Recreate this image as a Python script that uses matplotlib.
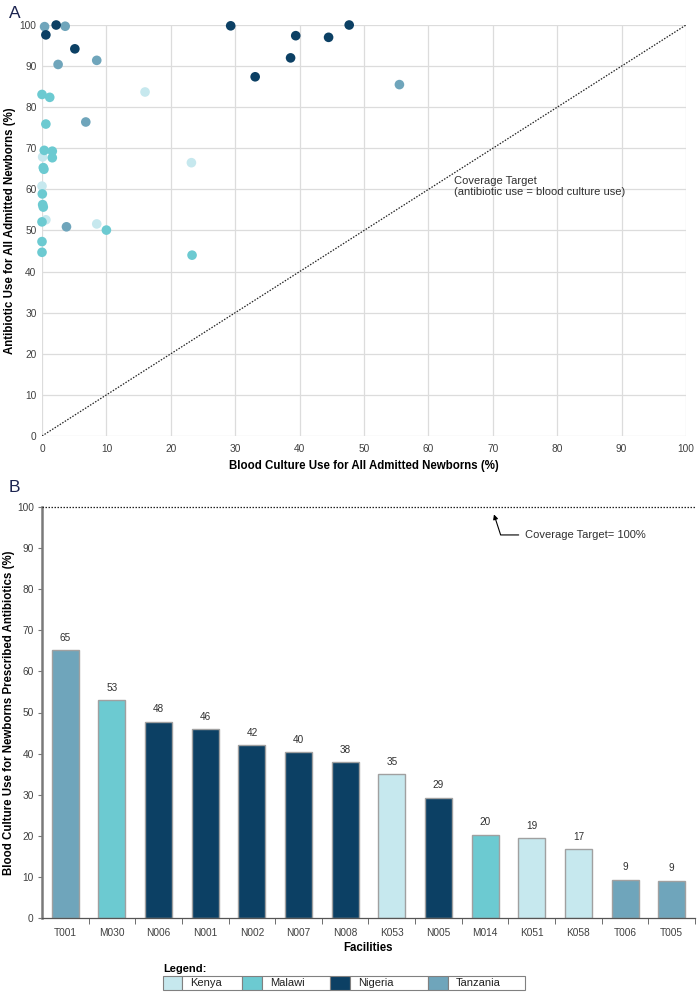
import matplotlib
matplotlib.use("Agg")
import matplotlib.pyplot as plt
from matplotlib.patches import Rectangle

plt.rcParams['font.family'] = ['Liberation Sans', 'DejaVu Sans']

# country colours
colors = {'Kenya': '#c6e8ee', 'Malawi': '#6ccad1', 'Nigeria': '#0c4064', 'Tanzania': '#6fa5bb'}
countries = ['Kenya', 'Malawi', 'Nigeria', 'Tanzania']

# panel A: blood culture use (x) vs antibiotic use (y), per facility
kenya_x = [16.0, 0.1, 0.0, 0.6, 8.5, 23.2]
kenya_y = [83.7, 67.9, 60.8, 52.6, 51.6, 66.5]
malawi_x = [0.0, 1.2, 0.6, 0.35, 1.6, 1.6, 0.2, 0.3, 0.05, 0.1, 0.2, 0.0, 10.0, 0.0, 0.0, 23.3]
malawi_y = [83.1, 82.4, 75.9, 69.5, 69.3, 67.7, 65.3, 64.9, 58.9, 56.3, 55.7, 52.1, 50.1, 47.3, 44.7, 44.0]
nigeria_x = [2.2, 0.6, 5.1, 29.3, 33.1, 38.6, 39.4, 44.5, 47.7]
nigeria_y = [100.0, 97.6, 94.2, 99.8, 87.4, 92.0, 97.4, 97.0, 100.0]
tanzania_x = [0.4, 3.6, 2.5, 8.5, 6.8, 3.8, 55.5]
tanzania_y = [99.6, 99.7, 90.4, 91.4, 76.4, 50.9, 85.5]

# panel B: blood culture use for newborns prescribed antibiotics
facilities = ['T001', 'M030', 'N006', 'N001', 'N002', 'N007', 'N008',
              'K053', 'N005', 'M014', 'K051', 'K058', 'T006', 'T005']
bar_values = [65.2, 53.0, 47.8, 46.0, 42.1, 40.4, 37.9, 35.0, 29.3, 20.3, 19.4, 16.8, 9.3, 9.1]
bar_country = ['Tanzania', 'Malawi', 'Nigeria', 'Nigeria', 'Nigeria', 'Nigeria', 'Nigeria',
               'Kenya', 'Nigeria', 'Malawi', 'Kenya', 'Kenya', 'Tanzania', 'Tanzania']

W, H = 698, 992
fig = plt.figure(figsize=(W / 100, H / 100), dpi=100)

tick_col = '#404040'

# ---- panel A ----
ax1 = fig.add_axes([42 / W, 1 - 436 / H, (686 - 42) / W, (436 - 25) / H])
ax1.set_xlim(0, 100)
ax1.set_ylim(0, 100)
ax1.set_xticks(range(0, 101, 10))
ax1.set_yticks(range(0, 101, 10))
ax1.grid(True, color='#dcdcdc', lw=0.9)
ax1.set_axisbelow(True)
for s in ax1.spines.values():
    s.set_visible(False)
ax1.tick_params(length=0, labelsize=7.3, colors=tick_col)
ax1.tick_params(axis='y', pad=4)
ax1.tick_params(axis='x', pad=6)
ax1.plot([0, 100], [0, 100], color='#222222', ls=(0, (1.2, 1.2)), lw=0.9, zorder=2)

for name, xs, ys in [('Kenya', kenya_x, kenya_y), ('Malawi', malawi_x, malawi_y),
                     ('Tanzania', tanzania_x, tanzania_y), ('Nigeria', nigeria_x, nigeria_y)]:
    ax1.scatter(xs, ys, s=48, color=colors[name], edgecolors='none', zorder=3, clip_on=False)

ax1.text(64.0, 60.7, 'Coverage Target\n(antibiotic use = blood culture use)', fontsize=8,
         color='#303030', va='center', ha='left', linespacing=1.05)
ax1.set_xlabel('Blood Culture Use for All Admitted Newborns (%)', fontsize=8.3,
               fontweight='bold', labelpad=4)
ax1.set_ylabel('Antibiotic Use for All Admitted Newborns (%)', fontsize=8.3,
               fontweight='bold')
# label anchor is the right edge of the rotated text
ax1.yaxis.set_label_coords((16 - 42) / 644, 0.5)

fig.text(9 / W, 1 - 13 / H, 'A', fontsize=12.5, color='#1c2450', va='center', ha='left')
fig.text(9 / W, 1 - 487 / H, 'B', fontsize=12.5, color='#1c2450', va='center', ha='left')

# ---- panel B ----
ax2 = fig.add_axes([42 / W, 1 - 918 / H, (695 - 42) / W, (918 - 507) / H])
xpos = list(range(len(facilities)))
ax2.bar(xpos, bar_values, width=0.58, color=[colors[c] for c in bar_country],
        edgecolor='#a0a0a0', linewidth=1.0, zorder=2)
for x, v in zip(xpos, bar_values):
    ax2.text(x, v + 1.8, f'{round(v)}', ha='center', va='bottom', fontsize=7.2, color='#303030')

ax2.set_xlim(-0.5, len(facilities) - 0.5)
ax2.set_ylim(0, 100)
ax2.set_yticks(range(0, 101, 10))
ax2.set_xticks(xpos)
ax2.set_xticklabels(facilities)
ax2.set_xticks([x + 0.5 for x in xpos], minor=True)
ax2.tick_params(axis='x', which='major', length=0, labelsize=7.3, colors=tick_col, pad=7)
ax2.tick_params(axis='x', which='minor', length=4, color='#555555', direction='out')
ax2.tick_params(axis='y', length=3, color='#777777', labelsize=7.3, labelcolor=tick_col, pad=3)
ax2.spines['top'].set_visible(False)
ax2.spines['right'].set_visible(False)
ax2.spines['left'].set_color('#7a7a7a')
ax2.spines['left'].set_linewidth(1.8)
ax2.spines['bottom'].set_color('#555555')
ax2.spines['bottom'].set_linewidth(0.9)
ax2.axhline(100, color='#222222', ls=(0, (1.2, 1.2)), lw=0.9, clip_on=False, zorder=3)

ax2.annotate('', xy=(9.19, 98.2), xytext=(9.72, 93.2),
             arrowprops=dict(arrowstyle='-|>', color='black', lw=0.8, mutation_scale=7,
                             shrinkA=0, shrinkB=0,
                             connectionstyle='angle,angleA=0,angleB=108,rad=0'))
ax2.text(9.85, 93.2, 'Coverage Target= 100%', fontsize=8, va='center', ha='left',
         color='#303030')

ax2.set_xlabel('Facilities', fontsize=8.3, fontweight='bold', labelpad=3)
ax2.set_ylabel('Blood Culture Use for Newborns Prescribed Antibiotics (%)', fontsize=8.3,
               fontweight='bold')
ax2.yaxis.set_label_coords((15 - 42) / 653, 0.5)

# ---- legend table ----
lg = fig.add_axes([0, 0, 1, 1], facecolor='none')
lg.set_xlim(0, W)
lg.set_ylim(H, 0)
lg.axis('off')
lg.text(163, 969, 'Legend:', fontsize=8, fontweight='bold', va='center', ha='left')
cells = [(163, 182, 242), (242, 262, 330), (330, 350, 428), (428, 448, 525)]
for (x0, x1, x2), name in zip(cells, countries):
    lg.add_patch(Rectangle((x0, 976), x1 - x0, 14, facecolor=colors[name],
                           edgecolor='#808080', lw=0.8))
    lg.add_patch(Rectangle((x1, 976), x2 - x1, 14, facecolor='white',
                           edgecolor='#808080', lw=0.8))
    lg.text(x1 + 8, 983.5, name, fontsize=8, va='center', ha='left', color='#202020')

fig.savefig('out.png', dpi=100)
